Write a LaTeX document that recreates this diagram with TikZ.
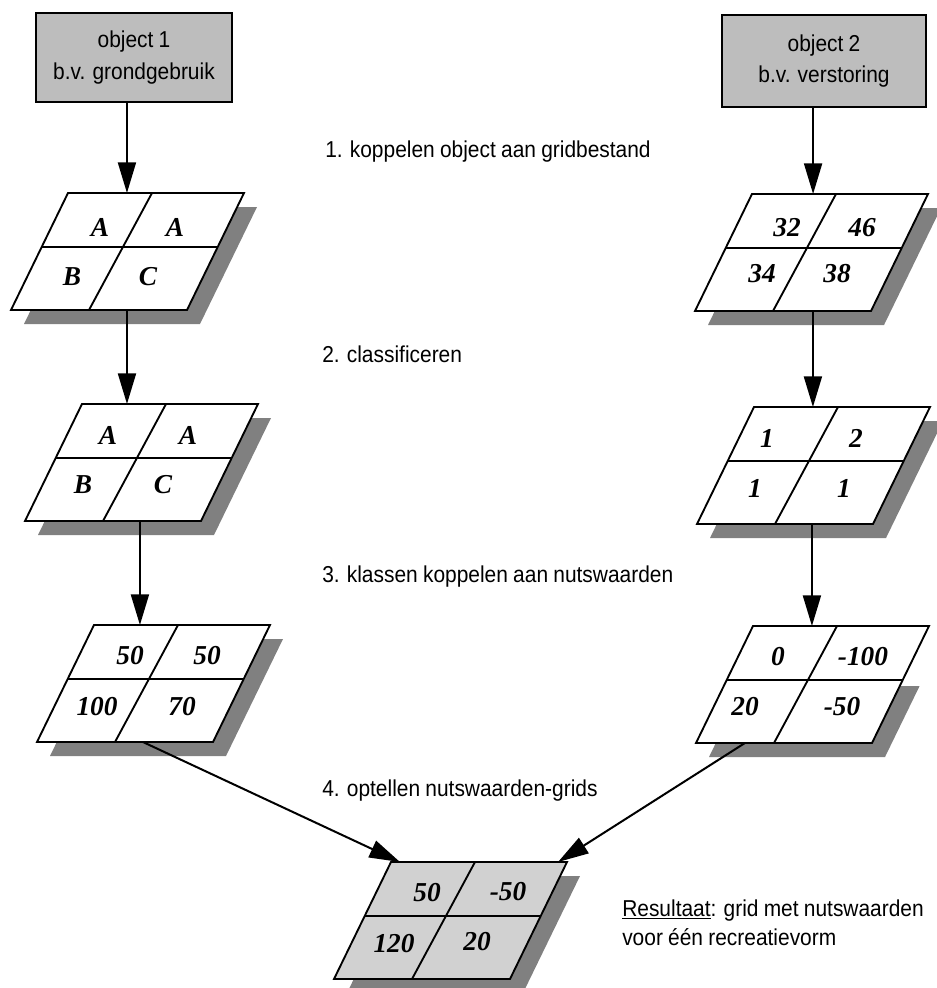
\documentclass[tikz,border=0pt]{standalone}
\usepackage{fontspec}
\setmainfont{Liberation Sans}[FakeStretch=0.91, WordSpace=0.9]
\newfontfamily\cellfont{Liberation Serif}
\usetikzlibrary{arrows.meta}

\definecolor{boxgray}{gray}{0.74}
\definecolor{shadowgray}{gray}{0.5}
\definecolor{resgray}{gray}{0.82}

\begin{document}
\begin{tikzpicture}[x=0.75pt, y=-0.75pt,
  arr/.style={line width=1.5pt, -{Triangle[length=23pt,width=13.5pt]}},
  gridline/.style={line width=1.4pt, line join=miter},
  objbox/.style={draw, line width=1.5pt, fill=boxgray, align=center,
    inner sep=0pt, font=\fontsize{17.25}{23.5}\selectfont},
  stage/.style={anchor=base west, inner sep=0pt, font=\fontsize{17.25}{21}\selectfont},
  num/.style={inner sep=0pt, font=\cellfont\bfseries\itshape\fontsize{20.5}{24}\selectfont},
  % parallelogram grid of 2x2 cells with a drop shadow; #1 = fill, #2 = top of the visible shadow
  pics/grid/.style args={#1/#2}{code={
    \begin{scope}
      \clip (-80,#2) rectangle (220,150);
      \fill[shadowgray] (13,14) -- (189,14) -- (132,131) -- (-44,131) -- cycle;
    \end{scope}
    \draw[gridline, fill=#1] (0,0) coordinate (-nw) -- (176,0) coordinate (-ne)
      -- (119,117) coordinate (-se) -- (-57,117) coordinate (-sw) -- cycle;
    \draw[gridline] (-26.3,54) -- (149.7,54);
    \draw[gridline] (84,0) -- (21,117);
  }}
]
\useasboundingbox (0,0) rectangle (937,988);
\clip (0,0) rectangle (937,988);

% source objects
\node[objbox, minimum width=147pt, minimum height=66.75pt] (box1) at (134,57.5)
  {object 1\\b.v. grondgebruik};
\node[objbox, minimum width=153pt, minimum height=69pt] (box2) at (824,61)
  {object 2\\b.v. verstoring};

% grids
\pic (g1) at (68,193) {grid=white/0};
\pic (g2) at (82,404) {grid=white/0};
\pic (g3) at (94,625) {grid=white/0};
\pic (r1) at (752,194) {grid=white/0};
\pic (r2) at (754,407) {grid=white/0};
\pic (r3) at (753,626) {grid=white/60};
\pic (res) at (391,862) {grid=resgray/0};

% cell values
\node[num] (g1a) at (100,227) {A};
\node[num] (g1b) at (175,227) {A};
\node[num] (g1c) at (72,277) {B};
\node[num] (g1d) at (148,277) {C};

\node[num] (g2a) at (108,435) {A};
\node[num] (g2b) at (188,435) {A};
\node[num] (g2c) at (83,485) {B};
\node[num] (g2d) at (163,485) {C};

\node[num] (g3a) at (130,656) {50};
\node[num] (g3b) at (207,656) {50};
\node[num] (g3c) at (97,707) {100};
\node[num] (g3d) at (182,707) {70};

\node[num] (r1a) at (787,228) {32};
\node[num] (r1b) at (862,228) {46};
\node[num] (r1c) at (762,274) {34};
\node[num] (r1d) at (837,274) {38};

\node[num] (r2a) at (767,438) {1};
\node[num] (r2b) at (856,438) {2};
\node[num] (r2c) at (755,488) {1};
\node[num] (r2d) at (844,488) {1};

\node[num] (r3a) at (778,657) {0};
\node[num] (r3b) at (863,657) {-100};
\node[num] (r3c) at (745,707) {20};
\node[num] (r3d) at (842,707) {-50};

\node[num] (resa) at (427,893) {50};
\node[num] (resb) at (508,892) {-50};
\node[num] (resc) at (394,944) {120};
\node[num] (resd) at (477,942) {20};

% connector end points on the grid edges
\path (g1-nw) -- (g1-ne) coordinate[pos=0.335] (g1-in);
\path (g1-sw) -- (g1-se) coordinate[pos=0.659] (g1-out);
\path (g2-sw) -- (g2-se) coordinate[pos=0.653] (g2-out);
\path (g3-sw) -- (g3-se) coordinate[pos=0.602] (g3-out);
\path (r1-nw) -- (r1-ne) coordinate[pos=0.347] (r1-in);
\path (r1-sw) -- (r1-se) coordinate[pos=0.670] (r1-out);
\path (r2-sw) -- (r2-se) coordinate[pos=0.653] (r2-out);
\path (r3-sw) -- (r3-se) coordinate[pos=0.278] (r3-out);
\path (res-nw) -- (res-ne) coordinate[pos=0.051] (res-inl)
                           coordinate[pos=0.949] (res-inr);

% connectors
\draw[arr] (box1.south -| g1-in) -- (g1-in);
\draw[arr] (g1-out) -- (g1-out |- g2-nw);
\draw[arr] (g2-out) -- (g2-out |- g3-nw);
\draw[arr] (box2.south -| r1-in) -- (r1-in);
\draw[arr] (r1-out) -- (r1-out |- r2-nw);
\draw[arr] (r2-out) -- (r2-out |- r3-nw);
\draw[arr] (g3-out) -- (res-inl);
\draw[arr] (r3-out) -- (res-inr);

% step labels
\node[stage] (s1) at (325,157) {1. koppelen object aan gridbestand};
\node[stage] (s2) at (322,362) {2. classificeren};
\node[stage] (s3) at (322,582) {3. klassen koppelen aan nutswaarden};
\node[stage] (s4) at (322,796) {4. optellen nutswaarden-grids};

% result caption
\node[stage] (cap1) at (622,916) {\underline{Resultaat}: grid met nutswaarden};
\node[stage] (cap2) at (622,945) {voor één recreatievorm};
\end{tikzpicture}
\end{document}
